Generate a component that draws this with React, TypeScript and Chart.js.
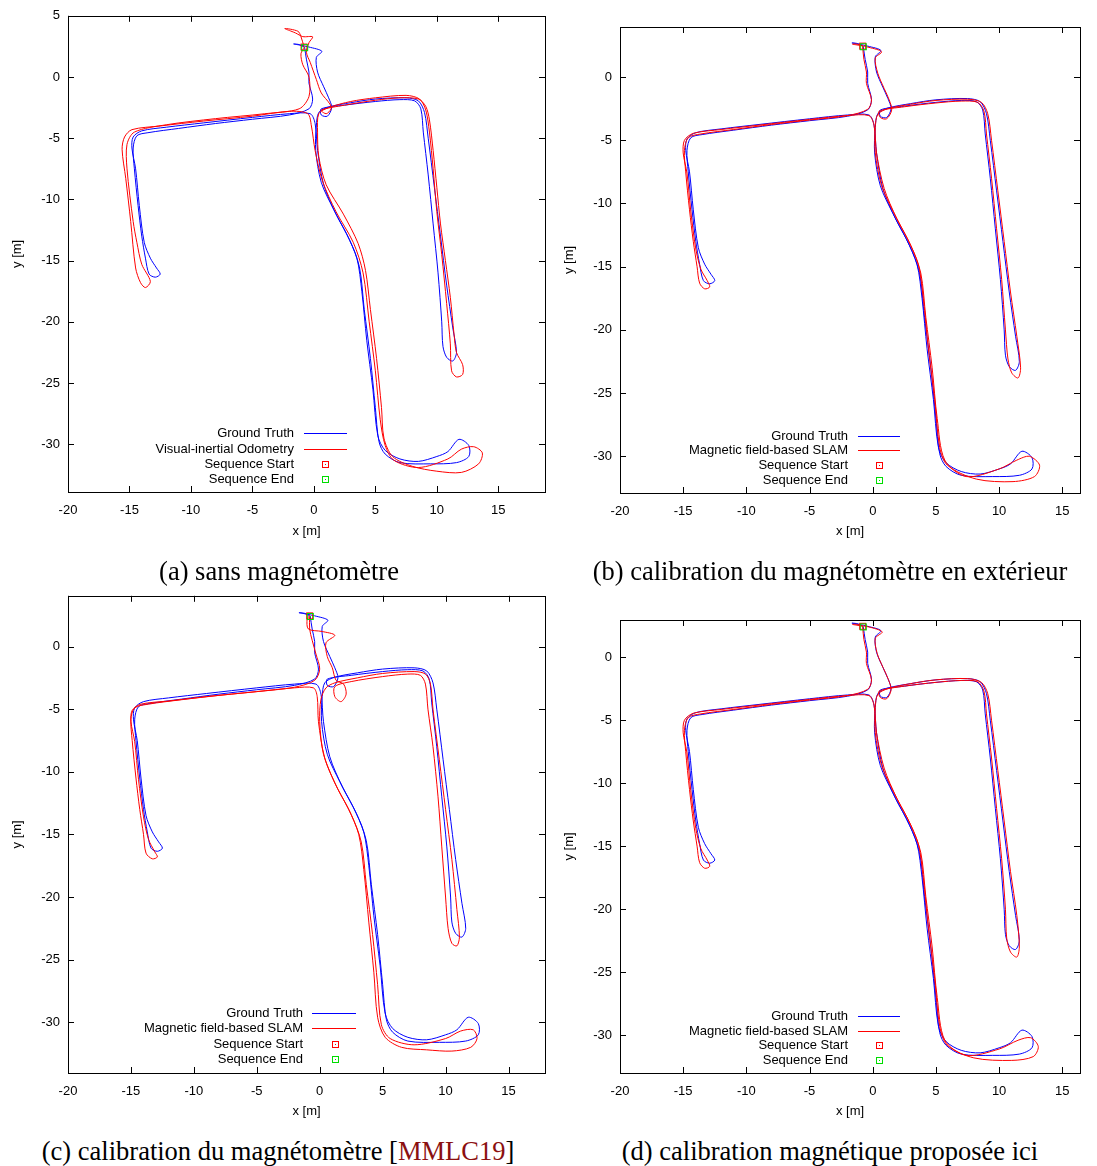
import React, { useEffect, useRef } from "react";
import { Chart, registerables } from "chart.js";

Chart.register(...registerables);
Chart.defaults.font.family = "'Liberation Sans', Arial, Helvetica, sans-serif";
Chart.defaults.font.size = 13;
Chart.defaults.color = "#000";

type Pt = [number, number];

// ---------- tick labels ----------
const xTicks = [-20, -15, -10, -5, 0, 5, 10, 15];
const yTicksA = [5, 0, -5, -10, -15, -20, -25, -30];
const yTicksBCD = [0, -5, -10, -15, -20, -25, -30];

// ---------- legend / series labels ----------
const gtLabel = "Ground Truth";
const vioLabel = "Visual-inertial Odometry";
const slamLabel = "Magnetic field-based SLAM";
const startLabel = "Sequence Start";
const endLabel = "Sequence End";

// ---------- markers ----------
const seqStart: Pt[] = [[-0.8, 2.45]];
const seqEnd: Pt[] = [[-0.75, 2.4]];

// ---------- ground truth trajectory (same in every panel) ----------
const groundTruth: Pt[] = [
  [-0.8, 2.45], [-1.2, 2.65], [-1.65, 2.7], [-1.1, 2.6], [-0.4, 2.45], [0.65, 2.1], [0.2, 1.6], [0.3, 0.4],
  [0.8, -0.8], [1.2, -1.7], [1.45, -2.5], [1.1, -3.2], [0.6, -3.1], [0.6, -2.6],
  [2.5, -2.3], [5, -2.0], [7, -1.85], [8.2, -1.95], [8.7, -2.6], [8.9, -4.5], [9.3, -8], [9.7, -12],
  [10.1, -16], [10.4, -20], [10.5, -22], [10.8, -22.9], [11.3, -23.2], [11.6, -22.5], [11.3, -20.5],
  [10.8, -17], [10.3, -13], [9.8, -9], [9.3, -5], [9.0, -2.9], [8.5, -1.95], [7.5, -1.7], [5, -1.8],
  [3, -2.1], [1.2, -2.45], [0.4, -2.9],
  [0.2, -4], [0.15, -6], [0.6, -8.6], [1.6, -10.8], [2.7, -12.9], [3.5, -14.8], [3.9, -17.5], [4.3, -21.5],
  [4.8, -25.5], [5.2, -29.3], [5.8, -30.5], [7, -31.2], [8.5, -31.4], [10, -31.0], [10.9, -30.6],
  [11.8, -29.6], [12.6, -30.1], [12.6, -31], [11.6, -31.5], [9.5, -31.6], [7, -31.5], [5.8, -30.8],
  [5.3, -29.8], [5.0, -27], [4.6, -23], [4.1, -19], [3.7, -15.5], [2.9, -13.3], [1.8, -11.2], [0.8, -8.8],
  [0.3, -6], [0.1, -3.8], [-0.3, -3.0],
  [-2, -3.0], [-5, -3.3], [-9, -3.75], [-12, -4.1], [-14, -4.4], [-14.7, -4.9], [-14.8, -5.8], [-14.5, -7.5],
  [-14.2, -10.5], [-13.8, -13.5], [-13.3, -14.8], [-12.8, -15.6], [-12.5, -16.1], [-12.9, -16.35],
  [-13.4, -16.1], [-13.7, -14.8], [-14.0, -13], [-14.3, -10.5], [-14.6, -7.5], [-14.7, -5.8], [-14.4, -4.8],
  [-13.5, -4.55], [-11, -4.2], [-8, -3.8], [-5, -3.45], [-2, -3.1], [-0.4, -2.6],
  [-0.1, -1.8], [-0.4, -0.5], [-0.4, 0.4], [-0.6, 1.4], [-0.75, 2.4],
];

// ---------- (a) visual-inertial odometry ----------
const vioA: Pt[] = [
  [-0.8, 2.45], [-1.05, 3.3], [-1.3, 3.74], [-2.37, 3.96], [-1.5, 3.6], [-0.9, 3.3], [-0.1, 3.28], [-0.4, 2.8],
  [-0.6, 2.0], [-0.3, 1.2], [0.2, -0.2], [0.6, -1.3], [1.3, -2.2], [1.4, -2.6], [1.0, -3.0], [0.6, -2.7],
  [2.5, -2.3], [5, -1.9], [7, -1.7], [8.5, -1.8], [9.1, -2.4], [9.4, -3.5], [9.7, -6], [10.0, -9],
  [10.3, -12], [10.7, -15], [11.1, -18], [11.4, -21], [11.6, -22.5], [12.1, -23.5], [12.1, -24.3],
  [11.6, -24.5], [11.2, -24], [11.1, -21.8], [10.8, -18.5], [10.4, -14.5], [10.0, -11], [9.7, -7.5],
  [9.4, -4.5], [9.1, -2.7], [8.6, -1.8], [7.5, -1.5], [5, -1.7], [3, -2.0], [1.2, -2.5], [0.4, -3.0],
  [0.3, -4.5], [0.4, -6.5], [1.0, -8.8], [2.4, -11.2], [3.6, -13.6], [4.2, -15.8], [4.6, -19], [5.1, -23],
  [5.5, -27], [5.7, -29.5], [6.4, -31], [8, -31.8], [10, -32.2], [12, -32.3], [13.4, -31.6], [13.7, -30.7],
  [13.0, -30.2], [12.0, -30.4], [10.9, -31.2], [8.5, -31.9], [6.5, -31.3], [5.8, -30.1], [5.4, -28],
  [5.0, -24], [4.5, -20], [4.0, -16], [3.2, -13.5], [1.8, -11.0], [0.7, -8.5], [0.1, -6], [-0.2, -4],
  [-0.5, -3.0],
  [-2, -2.8], [-5, -3.2], [-9, -3.6], [-12.5, -4.0], [-14.8, -4.3], [-15.4, -4.9], [-15.6, -5.9],
  [-15.3, -8.3], [-14.9, -11.8], [-14.5, -15.6], [-14.1, -16.8], [-13.7, -17.2], [-13.3, -16.7],
  [-14.0, -15.3], [-14.4, -13.5], [-14.7, -11.8], [-15.2, -7.5], [-15.2, -5.5], [-14.6, -4.5], [-12, -3.9],
  [-8, -3.4], [-4, -3.0], [-1.2, -2.6],
  [-0.4, -1.6], [-0.4, 0.0], [-0.9, 1.0], [-1.05, 1.9], [-0.75, 2.45],
];

// ---------- (b) SLAM, outdoor magnetometer calibration ----------
const slamB: Pt[] = [
  [-0.8, 2.45], [-1.2, 2.6], [-1.6, 2.6], [-1.0, 2.5], [-0.3, 2.35], [0.7, 2.0], [0.2, 1.5], [0.4, 0.3],
  [0.9, -0.9], [1.3, -1.8], [1.5, -2.6], [1.1, -3.3], [0.6, -3.2], [0.5, -2.7],
  [2.5, -2.35], [5, -2.05], [7, -1.9], [8.3, -2.0], [8.8, -2.7], [9.0, -4.5], [9.4, -8], [9.8, -12],
  [10.2, -16], [10.5, -20], [10.7, -22.3], [11.0, -23.4], [11.5, -23.8], [11.7, -23.0], [11.4, -20.5],
  [10.9, -17], [10.4, -13], [9.9, -9], [9.4, -5], [9.1, -2.9], [8.6, -2.0], [7.5, -1.75], [5, -1.85],
  [3, -2.15], [1.2, -2.5], [0.4, -2.95],
  [0.2, -4], [0.2, -6], [0.7, -8.6], [1.7, -10.8], [2.8, -12.9], [3.6, -14.8], [4.0, -17.5], [4.4, -21.5],
  [4.9, -25.5], [5.3, -29.3], [5.9, -30.7], [8.2, -31.8], [11.1, -32.0], [12.8, -31.6], [13.2, -30.7],
  [12.4, -30.0], [11.4, -30.3], [10.0, -31.0], [7.4, -31.6], [5.7, -30.3], [5.1, -27], [4.7, -23],
  [4.2, -19], [3.8, -15.5], [3.0, -13.3], [1.9, -11.2], [0.9, -8.8], [0.3, -6], [0.1, -3.8], [-0.3, -3.05],
  [-2, -3.05], [-5, -3.35], [-9, -3.8], [-12, -4.15], [-14.2, -4.45], [-14.9, -5.0], [-15.0, -6],
  [-14.7, -7.6], [-14.4, -10.6], [-14.0, -13.6], [-13.6, -15.2], [-13.1, -16.1], [-12.9, -16.6],
  [-13.3, -16.75], [-13.7, -16.3], [-13.9, -15], [-14.2, -13], [-14.5, -10.5], [-14.8, -7.5], [-14.9, -5.8],
  [-14.6, -4.8], [-13.6, -4.5], [-11, -4.15], [-8, -3.75], [-5, -3.4], [-2, -3.05], [-0.4, -2.55],
  [-0.1, -1.8], [-0.5, -0.5], [-0.5, 0.4], [-0.7, 1.4], [-0.8, 2.4],
];

// ---------- (c) SLAM, magnetometer calibration [MMLC19] ----------
const slamC: Pt[] = [
  [-0.8, 2.45], [-1.0, 2.2], [-0.9, 1.4], [0.2, 1.2], [1.2, 0.9], [0.5, 0.3], [0.6, -0.8], [1.0, -1.7],
  [1.3, -2.7], [1.9, -3.0], [2.1, -3.8], [1.7, -4.4], [1.2, -4.0], [1.2, -3.2],
  [2.5, -2.8], [5, -2.4], [7, -2.2], [8.0, -2.3], [8.4, -3.0], [8.6, -5], [9.0, -8], [9.4, -12], [9.7, -16],
  [10.0, -20], [10.2, -22.5], [10.5, -23.7], [10.9, -23.9], [11.1, -23.2], [10.9, -21], [10.5, -17],
  [10.0, -13], [9.5, -9], [9.0, -5], [8.8, -3], [8.4, -2.2], [7.5, -2.0], [5, -2.15], [3, -2.5],
  [1.2, -2.9], [0.5, -3.3],
  [0.1, -4.2], [0.0, -6], [0.3, -8.6], [1.2, -10.9], [2.3, -13], [3.1, -15], [3.5, -17.8], [3.9, -22],
  [4.3, -26], [4.6, -29.6], [5.2, -31.2], [6.5, -32.0], [8.5, -32.2], [10.5, -32.3], [12.0, -32.0],
  [12.5, -31.3], [12.2, -30.6], [11.2, -30.7], [10.0, -31.3], [7.5, -31.8], [5.6, -31.3], [4.9, -30.2],
  [4.6, -27], [4.2, -23], [3.7, -19], [3.3, -15.6], [2.5, -13.4], [1.4, -11.3], [0.4, -8.9], [-0.1, -6],
  [-0.2, -4], [-0.5, -3.3],
  [-2, -3.3], [-5, -3.6], [-9, -4.0], [-12, -4.35], [-14.2, -4.6], [-14.9, -5.1], [-15.0, -6],
  [-14.7, -7.6], [-14.4, -10.6], [-14.0, -13.6], [-13.6, -15.4], [-13.1, -16.4], [-12.9, -16.8],
  [-13.3, -16.95], [-13.8, -16.5], [-14.0, -15], [-14.3, -13], [-14.6, -10.5], [-14.9, -7.5], [-15.0, -5.8],
  [-14.7, -4.9], [-13.6, -4.6], [-11, -4.25], [-8, -3.9], [-5, -3.6], [-2, -3.25], [-0.4, -2.7],
  [0.0, -1.8], [-0.3, -0.6], [-0.6, 0.5], [-0.8, 1.4], [-0.8, 2.4],
];

// ---------- (d) SLAM, proposed magnetic calibration ----------
const slamD: Pt[] = [
  [-0.8, 2.45], [-1.2, 2.6], [-1.6, 2.6], [-1.0, 2.5], [-0.3, 2.4], [0.75, 2.0], [0.2, 1.5], [0.35, 0.3],
  [0.85, -0.9], [1.25, -1.8], [1.45, -2.6], [1.1, -3.3], [0.6, -3.2], [0.5, -2.7],
  [2.5, -2.3], [5, -2.0], [7, -1.85], [8.3, -1.95], [8.8, -2.7], [9.0, -4.5], [9.4, -8], [9.8, -12],
  [10.2, -16], [10.5, -20], [10.6, -22.3], [10.9, -23.4], [11.4, -23.8], [11.6, -23.0], [11.4, -20.5],
  [10.9, -17], [10.4, -13], [9.9, -9], [9.4, -5], [9.1, -2.9], [8.6, -2.0], [7.5, -1.7], [5, -1.8],
  [3, -2.1], [1.2, -2.5], [0.4, -2.95],
  [0.2, -4], [0.2, -6], [0.7, -8.6], [1.7, -10.8], [2.8, -12.9], [3.6, -14.8], [4.0, -17.5], [4.4, -21.5],
  [4.9, -25.5], [5.3, -29.3], [5.9, -30.8], [8.0, -31.8], [11.0, -32.0], [12.7, -31.7], [13.1, -30.9],
  [12.5, -30.2], [11.5, -30.4], [10.0, -31.1], [7.4, -31.6], [5.7, -30.4], [5.1, -27], [4.7, -23],
  [4.2, -19], [3.8, -15.5], [3.0, -13.3], [1.9, -11.2], [0.9, -8.8], [0.3, -6], [0.1, -3.8], [-0.3, -3.05],
  [-2, -3.05], [-5, -3.35], [-9, -3.8], [-12, -4.15], [-14.2, -4.45], [-14.9, -5.0], [-15.0, -6],
  [-14.7, -7.6], [-14.4, -10.6], [-14.0, -13.6], [-13.6, -15.2], [-13.1, -16.1], [-12.9, -16.6],
  [-13.3, -16.75], [-13.7, -16.3], [-13.9, -15], [-14.2, -13], [-14.5, -10.5], [-14.8, -7.5], [-14.9, -5.8],
  [-14.6, -4.8], [-13.6, -4.5], [-11, -4.15], [-8, -3.75], [-5, -3.4], [-2, -3.05], [-0.4, -2.55],
  [-0.1, -1.8], [-0.5, -0.5], [-0.5, 0.4], [-0.7, 1.4], [-0.8, 2.4],
];

// ---------- layout (page coordinates) ----------
interface Box { left: number; top: number; width: number; height: number }
interface Area { left: number; top: number; right: number; bottom: number }
interface LegendSpec { textRight: number; lineX1: number; lineX2: number; markerX: number; rows: number[] }
interface Panel {
  estimate: Pt[];
  estLabel: string;
  xMin: number; xMax: number; yMin: number; yMax: number;
  yTicks: number[];
  canvas: Box; area: Area; legend: LegendSpec;
  yTitlePad: number;
}

const panels: Panel[] = [
  {
    estimate: vioA, estLabel: vioLabel,
    xMin: -20, xMax: 18.8, yMin: -33.9, yMax: 5, yTicks: yTicksA,
    canvas: { left: 0, top: 0, width: 550, height: 545 },
    area: { left: 68, top: 14, right: 548, bottom: 492 },
    legend: { textRight: 294, lineX1: 304, lineX2: 347, markerX: 325, rows: [433, 449, 464, 479] },
    yTitlePad: 10,
  },
  {
    estimate: slamB, estLabel: slamLabel,
    xMin: -20, xMax: 16.4, yMin: -32.9, yMax: 3.96, yTicks: yTicksBCD,
    canvas: { left: 550, top: 0, width: 547, height: 545 },
    area: { left: 620, top: 27, right: 1080, bottom: 493 },
    legend: { textRight: 848, lineX1: 858, lineX2: 900, markerX: 879, rows: [436, 450, 465, 480] },
    yTitlePad: 12,
  },
  {
    estimate: slamC, estLabel: slamLabel,
    xMin: -20, xMax: 17.9, yMin: -34.05, yMax: 4.05, yTicks: yTicksBCD,
    canvas: { left: 0, top: 580, width: 550, height: 545 },
    area: { left: 68, top: 593, right: 548, bottom: 1073 },
    legend: { textRight: 303, lineX1: 312, lineX2: 356, markerX: 335, rows: [1013, 1028, 1044, 1059] },
    yTitlePad: 10,
  },
  {
    estimate: slamD, estLabel: slamLabel,
    xMin: -20, xMax: 16.4, yMin: -33.0, yMax: 2.95, yTicks: yTicksBCD,
    canvas: { left: 550, top: 580, width: 547, height: 545 },
    area: { left: 620, top: 620, right: 1080, bottom: 1073 },
    legend: { textRight: 848, lineX1: 858, lineX2: 900, markerX: 879, rows: [1016, 1031, 1045, 1060] },
    yTitlePad: 12,
  },
];

const captions = [
  { cx: 279, cy: 571, parts: [{ t: "(a) sans magnétomètre", c: "#000" }] },
  { cx: 830, cy: 571, parts: [{ t: "(b) calibration du magnétomètre en extérieur", c: "#000" }] },
  { cx: 278, cy: 1151, parts: [{ t: "(c) calibration du magnétomètre [", c: "#000" }, { t: "MMLC19", c: "#8b1010" }, { t: "]", c: "#000" }] },
  { cx: 830, cy: 1151, parts: [{ t: "(d) calibration magnétique proposée ici", c: "#000" }] },
];

function makeMarker(color: string): HTMLCanvasElement {
  const c = document.createElement("canvas");
  c.width = 9; c.height = 9;
  const g = c.getContext("2d")!;
  g.strokeStyle = color; g.lineWidth = 1;
  g.strokeRect(1.5, 1.5, 6, 6);
  g.fillStyle = color;
  g.fillRect(4, 4, 1, 1);
  return c;
}

const framePlugin = {
  id: "gnuplotFrame",
  afterDraw(chart: any, _args: any, opts: any) {
    const { ctx, chartArea: a, scales } = chart;
    ctx.save();
    ctx.strokeStyle = "#000";
    ctx.lineWidth = 1;
    ctx.strokeRect(Math.round(a.left) + 0.5, Math.round(a.top) + 0.5, Math.round(a.right - a.left), Math.round(a.bottom - a.top));
    const tl = 6;
    ctx.beginPath();
    for (const t of scales.x.ticks) {
      const x = Math.round(scales.x.getPixelForValue(t.value)) + 0.5;
      ctx.moveTo(x, a.bottom); ctx.lineTo(x, a.bottom - tl);
      ctx.moveTo(x, a.top); ctx.lineTo(x, a.top + tl);
    }
    for (const t of scales.y.ticks) {
      const y = Math.round(scales.y.getPixelForValue(t.value)) + 0.5;
      ctx.moveTo(a.left, y); ctx.lineTo(a.left + tl, y);
      ctx.moveTo(a.right, y); ctx.lineTo(a.right - tl, y);
    }
    ctx.stroke();

    // gnuplot-style key
    const lg = opts.legend;
    const ds = chart.data.datasets;
    ctx.font = "13px 'Liberation Sans', Arial, sans-serif";
    ctx.textAlign = "right";
    ctx.textBaseline = "middle";
    ds.forEach((d: any, i: number) => {
      const y = lg.rows[i];
      ctx.fillStyle = "#000";
      ctx.fillText(d.label, lg.textRight, y);
      if (d.showLine) {
        ctx.strokeStyle = d.borderColor;
        ctx.beginPath();
        ctx.moveTo(lg.lineX1, Math.round(y) + 0.5);
        ctx.lineTo(lg.lineX2, Math.round(y) + 0.5);
        ctx.stroke();
      } else {
        const img = d.pointStyle as HTMLCanvasElement;
        ctx.drawImage(img, Math.round(lg.markerX - img.width / 2), Math.round(y - img.height / 2));
      }
    });
    ctx.restore();
  },
};

function PanelChart({ p }: { p: Panel }) {
  const ref = useRef<HTMLCanvasElement>(null);
  useEffect(() => {
    if (!ref.current) return;
    const toXY = (arr: Pt[]) => arr.map(([x, y]) => ({ x, y }));
    const c = p.canvas;
    const legendLocal = {
      textRight: p.legend.textRight - c.left,
      lineX1: p.legend.lineX1 - c.left,
      lineX2: p.legend.lineX2 - c.left,
      markerX: p.legend.markerX - c.left,
      rows: p.legend.rows.map((r) => r - c.top),
    };
    const yAxisWidth = p.area.left - c.left;
    const xAxisHeight = c.top + c.height - p.area.bottom;
    const chart = new Chart(ref.current, {
      type: "scatter",
      data: {
        datasets: [
          { label: gtLabel, data: toXY(groundTruth), showLine: true, borderColor: "#0000ff", backgroundColor: "#0000ff", borderWidth: 1, pointRadius: 0, tension: 0.3, order: 3 } as any,
          { label: p.estLabel, data: toXY(p.estimate), showLine: true, borderColor: "#ff0000", backgroundColor: "#ff0000", borderWidth: 1, pointRadius: 0, tension: 0.3, order: 2 } as any,
          { label: startLabel, data: toXY(seqStart), showLine: false, pointStyle: makeMarker("#ff0000"), pointRadius: 4, order: 1 } as any,
          { label: endLabel, data: toXY(seqEnd), showLine: false, pointStyle: makeMarker("#00dd00"), pointRadius: 4, order: 0 } as any,
        ],
      },
      options: {
        animation: false,
        responsive: false,
        devicePixelRatio: 1,
        events: [],
        layout: {
          padding: { left: 0, bottom: 0, top: p.area.top - c.top, right: c.left + c.width - p.area.right },
        },
        plugins: {
          legend: { display: false },
          tooltip: { enabled: false },
          gnuplotFrame: { legend: legendLocal },
        } as any,
        scales: {
          x: {
            type: "linear", position: "bottom", min: p.xMin, max: p.xMax,
            afterBuildTicks: (s: any) => { s.ticks = xTicks.map((v) => ({ value: v })); },
            afterFit: (s: any) => { s.height = xAxisHeight; },
            grid: { display: false, drawTicks: false },
            border: { display: false },
            ticks: { autoSkip: false, maxRotation: 0, padding: 11, color: "#000", font: { size: 13 }, callback: (v: any) => String(v) },
            title: { display: true, text: "x [m]", color: "#000", font: { size: 13 }, padding: { top: 0, bottom: 6 } },
          },
          y: {
            type: "linear", position: "left", min: p.yMin, max: p.yMax,
            afterBuildTicks: (s: any) => { s.ticks = p.yTicks.map((v) => ({ value: v })); },
            afterFit: (s: any) => { s.width = yAxisWidth; },
            grid: { display: false, drawTicks: false },
            border: { display: false },
            ticks: { autoSkip: false, padding: 8, color: "#000", font: { size: 13 }, callback: (v: any) => String(v) },
            title: { display: true, text: "y [m]", color: "#000", font: { size: 13 }, padding: { top: p.yTitlePad, bottom: 0 } },
          },
        },
      } as any,
      plugins: [framePlugin],
    });
    return () => chart.destroy();
  }, [p]);
  return (
    <canvas
      ref={ref}
      width={p.canvas.width}
      height={p.canvas.height}
      style={{ position: "absolute", left: p.canvas.left, top: p.canvas.top, width: p.canvas.width, height: p.canvas.height }}
    />
  );
}

export default function App() {
  return (
    <div style={{ position: "absolute", left: 0, top: 0, width: 1097, height: 1166, background: "#fff", overflow: "hidden" }}>
      {panels.map((p, i) => (
        <PanelChart key={i} p={p} />
      ))}
      {captions.map((c, i) => (
        <div
          key={"cap" + i}
          style={{
            position: "absolute", left: c.cx - 300, width: 600, top: c.cy - 15, height: 30, lineHeight: "30px",
            textAlign: "center", fontFamily: "'Liberation Serif', 'Times New Roman', serif", fontSize: 26.5, color: "#000", whiteSpace: "nowrap",
          }}
        >
          {c.parts.map((pt, j) => (
            <span key={j} style={{ color: pt.c }}>{pt.t}</span>
          ))}
        </div>
      ))}
    </div>
  );
}
